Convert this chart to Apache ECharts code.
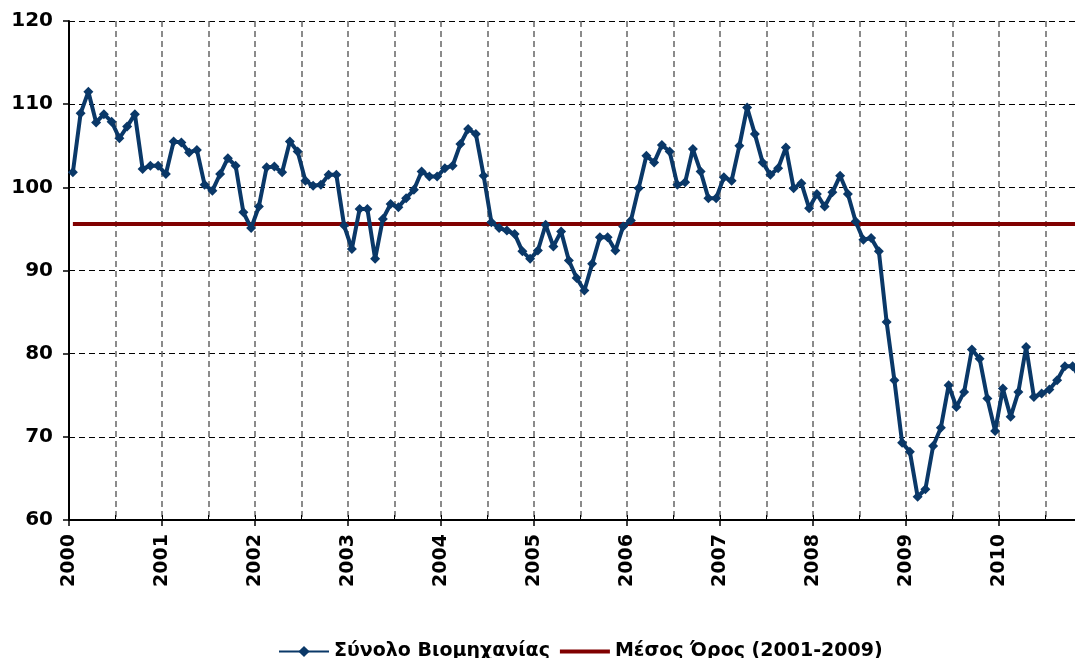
<!DOCTYPE html>
<html>
<head>
<meta charset="utf-8">
<script src="https://cdn.jsdelivr.net/npm/echarts@6/dist/echarts.min.js"></script>
</head>
<body style="margin:0;overflow:hidden">
<!-- chart is wider than the window: the right edge is cut off like the original -->
<div id="main" style="width:1092px;height:658px;"></div>
<script>
// monthly index, Jan 2000 onwards
var startYear = 2000;
var industry = [
  101.8, 108.9, 111.5, 107.8, 108.8, 107.9, 105.9, 107.3, 108.8, 102.2, 102.6, 102.6,
  101.6, 105.5, 105.4, 104.2, 104.5, 100.3, 99.6, 101.6, 103.5, 102.6, 97.0, 95.1,
  97.7, 102.4, 102.5, 101.8, 105.5, 104.3, 100.8, 100.2, 100.3, 101.5, 101.5, 95.4,
  92.6, 97.4, 97.4, 91.4, 96.2, 98.0, 97.6, 98.7, 99.7, 101.9, 101.3, 101.3,
  102.3, 102.6, 105.2, 107.0, 106.4, 101.4, 95.8, 95.1, 94.8, 94.4, 92.3, 91.4,
  92.4, 95.5, 92.9, 94.7, 91.2, 89.1, 87.6, 90.8, 94.0, 94.0, 92.4, 95.3,
  96.0, 99.9, 103.8, 103.0, 105.1, 104.3, 100.3, 100.6, 104.6, 101.9, 98.7, 98.7,
  101.2, 100.8, 105.0, 109.6, 106.4, 103.0, 101.5, 102.3, 104.8, 99.9, 100.5, 97.5,
  99.2, 97.7, 99.4, 101.4, 99.2, 95.9, 93.7, 93.9, 92.3, 83.8, 76.8, 69.3,
  68.2, 62.8, 63.7, 68.9, 71.1, 76.2, 73.6, 75.4, 80.5, 79.4, 74.6, 70.7,
  75.8, 72.4, 75.4, 80.8, 74.8, 75.2, 75.7, 76.8, 78.5, 78.5, 77.0
];
var meanValue = 95.6; // Μέσος Όρος (2001-2009)
var yTicks = [60, 70, 80, 90, 100, 110, 120];

var nMonths = 132;
var fontFam = 'DejaVu Sans';

var lineData = [];
var meanData = [];
for (var i = 0; i < industry.length; i++) {
  lineData.push([i + 0.5, industry[i]]);
}
for (var j = 0; j < nMonths; j++) {
  meanData.push([j + 0.5, meanValue]);
}

var myChart = echarts.init(document.getElementById('main'));

var option = {
  animation: false,
  backgroundColor: '#fff',
  grid: { left: 69, top: 21, bottom: 138, right: 0, containLabel: false },
  legend: {
    left: 273,
    top: 637,
    itemWidth: 50,
    itemHeight: 14,
    itemGap: 10,
    textStyle: { fontFamily: fontFam, fontWeight: 'bold', fontSize: 19, color: '#000' },
    data: [
      { name: 'Σύνολο Βιομηχανίας' },
      { name: 'Μέσος Όρος (2001-2009)', icon: 'path://M0 0H50V4H0Z' }
    ]
  },
  xAxis: [{
    type: 'value',
    min: 0,
    max: nMonths,
    interval: 12,
    axisLine: { lineStyle: { color: '#000', width: 2 } },
    axisTick: { show: true, length: 6, lineStyle: { color: '#000', width: 1.5 } },
    axisLabel: {
      rotate: 90,
      margin: 14,
      fontFamily: fontFam,
      fontWeight: 'bold',
      fontSize: 19,
      color: '#000',
      formatter: function (v) { return v < nMonths ? String(startYear + v / 12) : ''; }
    },
    splitLine: { show: false }
  }, {
    type: 'value',
    min: 0,
    max: nMonths,
    interval: 6,
    position: 'bottom',
    axisLine: { show: false },
    axisTick: { show: true, inside: true, length: 5, lineStyle: { color: '#000', width: 1 } },
    axisLabel: { show: false },
    splitLine: { show: true, lineStyle: { color: '#666', width: 1.5, type: [6, 4] } }
  }],
  yAxis: {
    type: 'value',
    min: yTicks[0],
    max: yTicks[yTicks.length - 1],
    interval: 10,
    axisLine: { show: true, lineStyle: { color: '#000', width: 2 } },
    axisTick: { show: true, length: 6, lineStyle: { color: '#000', width: 1.5 } },
    axisLabel: { margin: 16, fontFamily: fontFam, fontWeight: 'bold', fontSize: 20, color: '#000' },
    splitLine: { show: true, lineStyle: { color: '#000', width: 1, type: [6, 4] } }
  },
  series: [{
    name: 'Μέσος Όρος (2001-2009)',
    type: 'line',
    data: meanData,
    symbol: 'none',
    z: 2,
    lineStyle: { color: '#800000', width: 4 },
    itemStyle: { color: '#800000' }
  }, {
    name: 'Σύνολο Βιομηχανίας',
    type: 'line',
    data: lineData,
    symbol: 'diamond',
    symbolSize: 10,
    z: 3,
    lineStyle: { color: '#0a3868', width: 4 },
    itemStyle: { color: '#0a3868' }
  }]
};

myChart.setOption(option);
</script>
</body>
</html>
